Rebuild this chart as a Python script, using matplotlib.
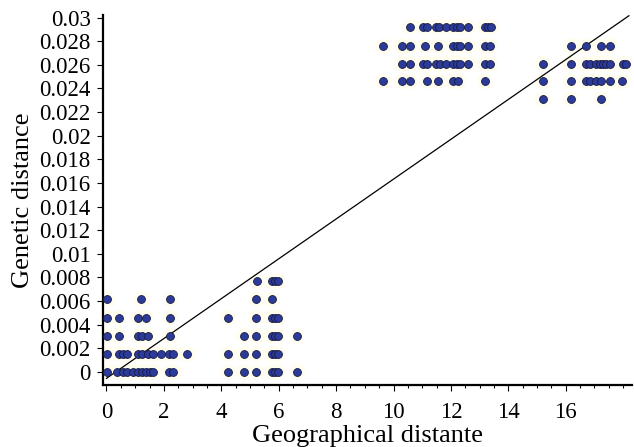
import numpy as np
import matplotlib.pyplot as plt
from matplotlib.ticker import MultipleLocator

plt.rcParams['font.family'] = ['Liberation Serif', 'DejaVu Serif']

# niveaux de distance génétique (lignes de points)
lv = [0.0, 0.00153, 0.00307, 0.0046, 0.00613, 0.00767,
      0.0231, 0.0246, 0.0261, 0.0276, 0.0292]

# distance géographique pour chaque niveau
geo = {
    0.0: [0.03, 0.38, 0.56, 0.73, 0.94, 1.11, 1.25, 1.39, 1.53, 1.63, 2.19, 2.33,
          4.23, 4.78, 5.22, 5.76, 5.88, 5.96, 6.65],
    0.00153: [0.03, 0.42, 0.59, 0.73, 1.11, 1.25, 1.43, 1.63, 1.91, 2.19, 2.33, 2.82,
              4.23, 4.78, 5.22, 5.76, 5.88, 5.96],
    0.00307: [0.03, 0.42, 1.11, 1.25, 1.43, 2.23,
              4.78, 5.22, 5.76, 5.88, 5.96, 6.65],
    0.0046: [0.03, 0.42, 1.11, 1.36, 2.23, 4.23, 5.22, 5.76, 5.88, 5.99],
    0.00613: [0.03, 1.22, 2.23, 5.22, 5.76],
    0.00767: [5.24, 5.76, 5.88, 5.99],
    0.0231: [15.19, 16.17, 17.24],
    0.0246: [9.65, 10.28, 10.57, 11.15, 11.56, 12.06, 12.26, 13.18,
             15.19, 16.17, 16.70, 16.86, 17.07, 17.24, 17.53, 17.97],
    0.0261: [10.28, 10.57, 11.04, 11.15, 11.48, 11.62, 11.83, 12.06, 12.20, 12.33,
             12.60, 13.18, 13.36,
             15.19, 16.17, 16.70, 16.86, 17.04, 17.18, 17.30, 17.39, 17.53, 17.99, 18.11],
    0.0276: [9.65, 10.28, 10.57, 11.10, 11.56, 12.08, 12.20, 12.33, 12.60, 13.18, 13.36,
             16.17, 16.70, 17.24, 17.53],
    0.0292: [10.57, 11.04, 11.15, 11.48, 11.59, 11.83, 12.06, 12.20, 12.33, 12.60,
             13.18, 13.30, 13.41],
}

# droite de régression
pente = 0.001687
ordonnee = -0.00055
x_droite = [0, 18.2]

# graduations
xticks = [0, 2, 4, 6, 8, 10, 12, 14, 16]
yticks = [0, 0.002, 0.004, 0.006, 0.008, 0.01, 0.012, 0.014, 0.016,
          0.018, 0.02, 0.022, 0.024, 0.026, 0.028, 0.03]

xs = []
ys = []
for v in lv:
    for g in geo[v]:
        xs.append(g)
        ys.append(v)
xs = np.array(xs)
ys = np.array(ys)

fig = plt.figure(figsize=(6.34, 4.47), dpi=100)
ax = fig.add_axes([0.1625, 0.139, 0.834, 0.827])

# halo jaune pâle autour des points
ax.scatter(xs, ys, s=130, color='#fffdf0', edgecolors='none', zorder=1)
ax.scatter(xs, ys, s=32, color='#2c3b9a', edgecolors='#151a40', linewidths=0.6, zorder=3)

xl = np.array(x_droite)
ax.plot(xl, pente * xl + ordonnee, color='black', lw=0.9, zorder=2, clip_on=False)

ax.set_xlim(-0.12, 18.3)
ax.set_ylim(-0.0011, 0.0302)

ax.set_xticks(xticks)
ax.set_xticklabels([str(t) for t in xticks])
ax.xaxis.set_minor_locator(MultipleLocator(0.5))
ax.set_yticks(yticks)
ax.set_yticklabels(['%g' % t for t in yticks])

for s in ['top', 'right']:
    ax.spines[s].set_visible(False)
for s in ['left', 'bottom']:
    ax.spines[s].set_linewidth(1.6)

ax.tick_params(axis='both', which='major', labelsize=16.5, length=4, width=0.8, direction='out')
ax.tick_params(axis='x', which='minor', length=2.5, width=0.8, direction='out')
ax.tick_params(axis='x', pad=8)
ax.tick_params(axis='y', pad=5)

ax.set_xlabel('Geographical distante', fontsize=19, labelpad=2)
ax.set_ylabel('Genetic distance', fontsize=19, labelpad=4)

fig.savefig('out.png', dpi=100)
